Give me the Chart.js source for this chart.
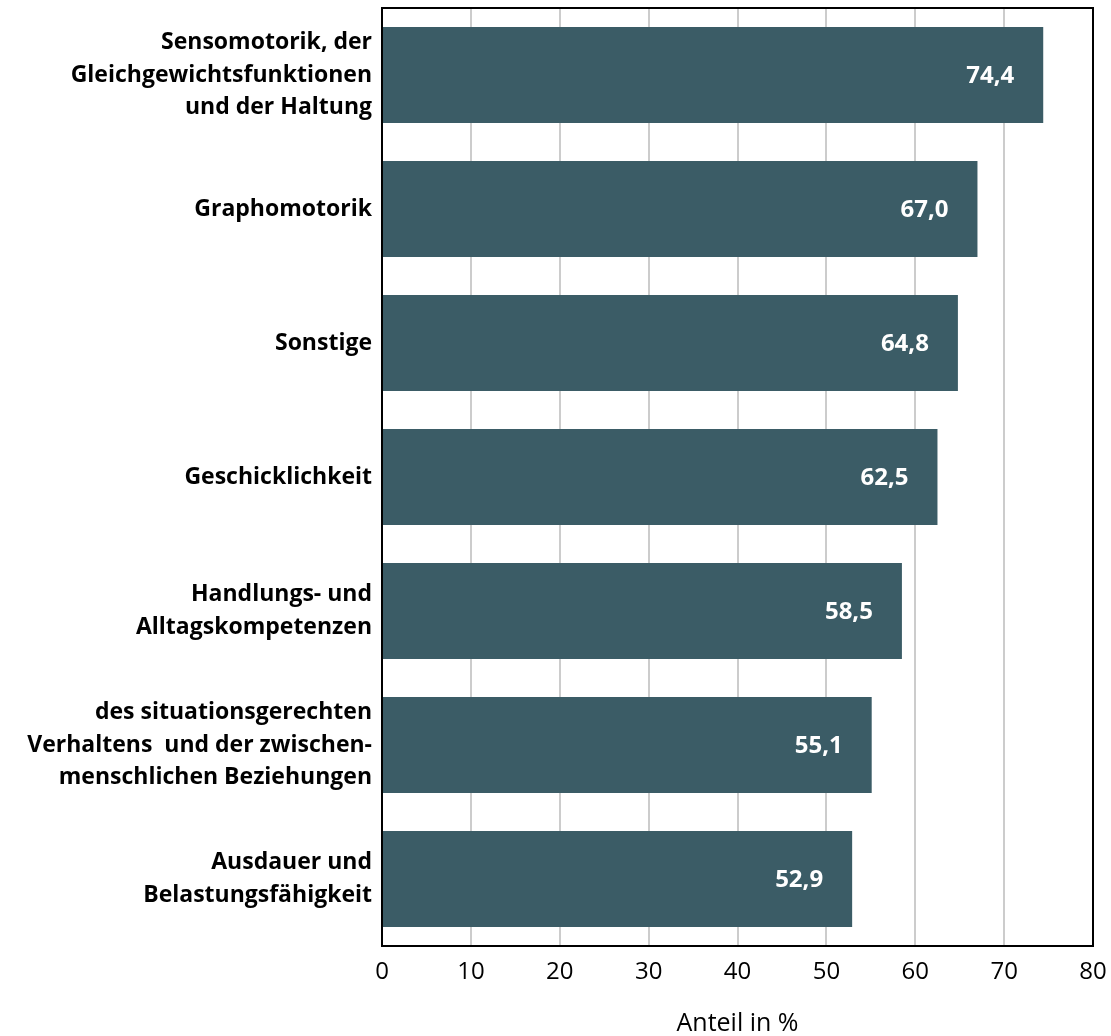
<!DOCTYPE html>
<html><head><meta charset="utf-8">
<script src="https://cdn.jsdelivr.net/npm/chart.js@4/dist/chart.umd.min.js"></script>
<style>html,body{margin:0;padding:0;background:#fff}#wrap{width:1111px;height:1036px}</style>
</head><body><div id="wrap"><canvas id="c" width="1111" height="1036"></canvas></div>
<script>
const categories = [
  ["Sensomotorik, der","Gleichgewichtsfunktionen","und der Haltung"],
  "Graphomotorik",
  "Sonstige",
  "Geschicklichkeit",
  ["Handlungs- und","Alltagskompetenzen"],
  ["des situationsgerechten","Verhaltens  und der zwischen-","menschlichen Beziehungen"],
  ["Ausdauer und","Belastungsfähigkeit"]
];
const values = [74.4, 67.0, 64.8, 62.5, 58.5, 55.1, 52.9];
const xTicks = [0,10,20,30,40,50,60,70,80];
const axisTitle = "Anteil in %";
const FONT = "'Open Sans', sans-serif";

const valueLabels = {
  id:'valueLabels',
  afterDatasetsDraw(chart){
    const ctx = chart.ctx, meta = chart.getDatasetMeta(0);
    ctx.save();
    ctx.fillStyle='#fff'; ctx.font="bold 24px "+FONT;
    ctx.textAlign='right'; ctx.textBaseline='middle';
    meta.data.forEach((bar,i)=>{
      ctx.fillText(values[i].toFixed(1).replace('.',','), bar.x-29, bar.y+1);
    });
    ctx.restore();
  }
};
const frame = {
  id:'frame',
  afterDraw(chart){
    const a=chart.chartArea, ctx=chart.ctx;
    ctx.save(); ctx.strokeStyle='#000'; ctx.lineWidth=2;
    ctx.strokeRect(a.left, a.top, a.right-a.left, a.bottom-a.top);
    ctx.restore();
  }
};

new Chart(document.getElementById('c'), {
  type:'bar',
  data:{labels:categories, datasets:[{data:values, backgroundColor:'#3b5c66', barPercentage:0.716, categoryPercentage:1}]},
  options:{
    indexAxis:'y', responsive:false, animation:false,
    layout:{padding:{top:8,right:18,left:0,bottom:0}},
    plugins:{legend:{display:false}, tooltip:{enabled:false}},
    scales:{
      x:{min:0,max:80,
        afterBuildTicks(s){ s.ticks = xTicks.map(v=>({value:v})); },
        afterFit(s){ s.height = 90; s.paddingLeft=0; s.paddingRight=0; },
        grid:{color:'#cccccc', lineWidth:2, drawTicks:false},
        border:{display:false},
        ticks:{color:'#000', font:{family:FONT,size:24}, padding:12},
        title:{display:true, text:axisTitle, color:'#000', font:{family:FONT,size:25}, padding:{top:17,bottom:-3}}
      },
      y:{
        afterFit(s){ s.width = 382; s.paddingTop=0; s.paddingBottom=0; },
        grid:{display:false, drawTicks:false},
        border:{display:false},
        ticks:{color:'#000', font:{family:FONT,size:23,weight:'bold',lineHeight:1.43}, padding:10}
      }
    }
  },
  plugins:[valueLabels, frame]
});
</script></body></html>
